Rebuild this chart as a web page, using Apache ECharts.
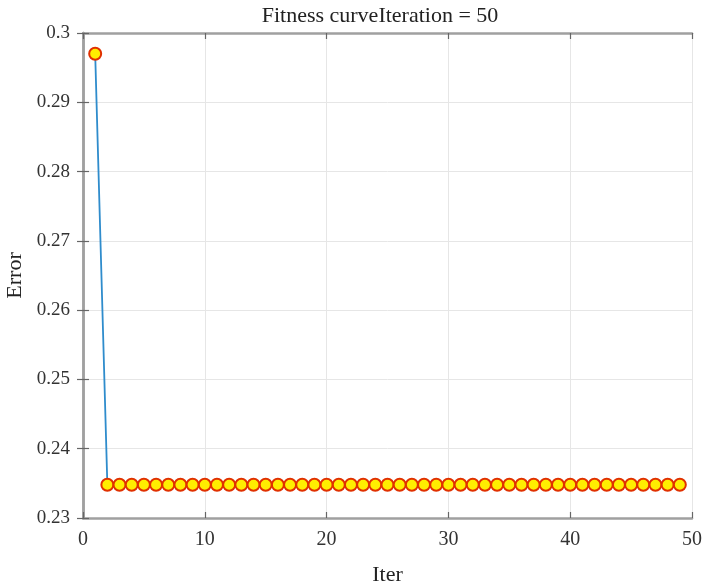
<!DOCTYPE html>
<html><head><meta charset="utf-8">
<script src="https://cdn.jsdelivr.net/npm/echarts@6/dist/echarts.min.js"></script>
<style>html,body{margin:0;padding:0;background:#fff}#c{width:709px;height:585px}</style>
</head><body><div id="c"></div>
<script>
const iterations = [];
for (let i = 1; i <= 50; i++) iterations.push(i);
const errors = [0.2970,
  0.2348,0.2348,0.2348,0.2348,0.2348,0.2348,0.2348,0.2348,0.2348,
  0.2348,0.2348,0.2348,0.2348,0.2348,0.2348,0.2348,0.2348,0.2348,0.2348,
  0.2348,0.2348,0.2348,0.2348,0.2348,0.2348,0.2348,0.2348,0.2348,0.2348,
  0.2348,0.2348,0.2348,0.2348,0.2348,0.2348,0.2348,0.2348,0.2348,0.2348,
  0.2348,0.2348,0.2348,0.2348,0.2348,0.2348,0.2348,0.2348,0.2348];
const titleText = 'Fitness curveIteration = 50';
const xName = 'Iter', yName = 'Error';

const font = 'Liberation Serif, Times New Roman, serif';
const chart = echarts.init(document.getElementById('c'), null, {renderer:'canvas'});
const axisLineStyle = {show:true, lineStyle:{color:'#a0a0a0', width:2.5}};
const tickStyle = {show:true, inside:true, length:6, lineStyle:{color:'#666', width:1.2}};
chart.setOption({
  animation:false,
  backgroundColor:'#fff',
  title:{text:titleText, left:375, top:0, textAlign:'center',
    textStyle:{fontFamily:font, fontSize:22, fontWeight:'normal', color:'#222'}},
  grid:{left:83, right:17, top:33, bottom:67, containLabel:false, outerBoundsMode:'none'},
  xAxis:[{
    type:'value', min:0, max:50, interval:10,
    name:xName, nameLocation:'middle', nameGap:46,
    nameTextStyle:{fontFamily:font, fontSize:22, color:'#222'},
    axisLine:axisLineStyle,
    axisTick:tickStyle,
    axisLabel:{fontFamily:font, fontSize:20, color:'#333', margin:12},
    splitLine:{show:true, lineStyle:{color:'#e6e6e6', width:1}}
  },{
    type:'value', min:0, max:50, interval:10, position:'top',
    axisLine:axisLineStyle,
    axisTick:tickStyle,
    axisLabel:{show:false}, splitLine:{show:false}
  }],
  yAxis:[{
    type:'value', min:0.23, max:0.30, interval:0.01,
    name:yName, nameLocation:'middle', nameGap:55,
    nameTextStyle:{fontFamily:font, fontSize:22, color:'#222'},
    axisLine:axisLineStyle,
    axisTick:tickStyle,
    axisLabel:{fontFamily:font, fontSize:19, color:'#333', margin:13,
      formatter:v=>String(parseFloat(v.toFixed(2)))},
    splitLine:{show:true, lineStyle:{color:'#e6e6e6', width:1}}
  },{
    type:'value', min:0.23, max:0.30, interval:0.01, position:'right',
    axisLine:axisLineStyle,
    axisTick:tickStyle,
    axisLabel:{show:false}, splitLine:{show:false}
  }],
  series:[{
    type:'line',
    data:iterations.map((x,i)=>[x, errors[i]]),
    symbol:'circle', symbolSize:12,
    lineStyle:{color:'#2f8ccc', width:1.8},
    itemStyle:{color:'#ffee00', borderColor:'#e03000', borderWidth:2},
    z:3
  }]
});
</script></body></html>
